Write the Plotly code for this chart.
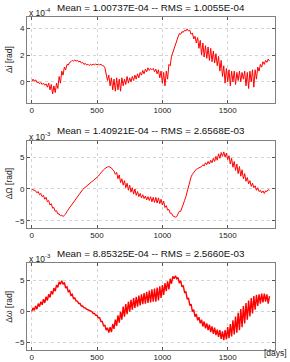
import plotly.graph_objects as go

# Sampling step of the read-off values (days)
STEP = 10

# Panel 1: delta i, in units of 1e-4 rad
di_e4 = [
    0.0, 0.2, 0.05, 0.15, -0.05, 0.0, -0.15, -0.05, -0.2, -0.1,
    -0.25, -0.15, -0.4, -0.1, -0.6, -0.2, -0.9, -0.3, -0.8, -0.1,
    -0.5, 0.4, -0.1, 0.8, 0.5, 1.1, 0.9, 1.3, 1.25, 1.45,
    1.5, 1.6, 1.55, 1.62, 1.55, 1.6, 1.48, 1.55, 1.4, 1.45,
    1.3, 1.38, 1.25, 1.32, 1.22, 1.3, 1.25, 1.32, 1.27, 1.33,
    1.28, 1.32, 1.27, 1.3, 1.22, 1.2, 1.05, 0.6, 0.1, 0.5,
    -0.3, 0.3, -0.6, 0.2, -0.7, 0.3, -0.6, 0.2, -0.7, 0.3,
    -0.3, 0.2, -0.2, 0.4, -0.1, 0.3, 0.0, 0.4, 0.1, 0.5,
    0.2, 0.6, 0.3, 0.7, 0.5, 0.85, 0.6, 0.95, 0.75, 1.05,
    0.85, 1.0, 0.9, 1.0, 0.75, 0.95, 0.6, 0.9, 0.3, 0.8,
    -0.1, 0.7, -0.3, 0.8, 0.2, 1.3, 1.2, 1.9, 2.2, 2.6,
    2.8, 3.2, 3.35, 3.6, 3.55, 3.75, 3.7, 3.85, 3.8, 3.95,
    3.8, 3.85, 3.55, 3.65, 3.2, 3.4, 2.9, 3.3, 2.5, 3.1,
    2.0, 2.9, 1.85, 2.7, 1.75, 2.6, 1.6, 2.5, 1.5, 2.3,
    1.4, 2.1, 1.2, 1.9, 0.8, 1.6, 0.4, 1.2, -0.1, 1.0,
    0.0, 0.9, -0.3, 0.8, 0.0, 0.8, -0.2, 0.7, 0.1, 0.8,
    0.0, 0.7, 0.2, 0.8, -0.3, 0.7, -0.5, 0.8, 0.0, 0.9,
    -0.4, 0.9, 0.2, 1.1, 0.8, 1.3, 1.1, 1.5, 1.3, 1.6,
    1.45, 1.7, 1.55,
]

# Panel 2: delta Omega, in units of 1e-3 rad
dO_e3 = [
    0.0, -0.1, -0.2, -0.3, -0.6, -0.4, -0.9, -0.7, -1.2, -1.0,
    -1.6, -1.3, -2.0, -1.8, -2.5, -2.3, -3.0, -2.9, -3.5, -3.4,
    -3.9, -3.9, -4.2, -4.1, -4.3, -4.1, -3.9, -3.5, -3.2, -2.9,
    -2.6, -2.3, -2.0, -1.7, -1.4, -1.1, -0.8, -0.6, -0.3, -0.1,
    0.1, 0.3, 0.5, 0.7, 0.85, 1.0, 1.15, 1.3, 1.45, 1.6,
    1.75, 2.0, 2.3, 2.6, 2.8, 3.0, 3.2, 3.35, 3.45, 3.5,
    3.4, 3.3, 3.0, 2.8, 2.3, 2.6, 1.6, 2.2, 1.0, 1.6,
    0.6, 1.3, 0.2, 0.9, -0.2, 0.6, -0.5, 0.2, -0.8, 0.0,
    -1.0, -0.4, -1.2, -0.7, -1.4, -0.9, -1.5, -1.1, -1.7, -1.2,
    -1.8, -1.2, -2.0, -1.3, -2.1, -1.3, -2.2, -1.4, -2.3, -1.6,
    -2.5, -1.9, -2.9, -2.6, -3.3, -3.2, -3.8, -3.8, -4.2, -4.3,
    -4.4, -4.3, -4.0, -3.5, -3.5, -2.8, -2.5, -1.8, -1.2, -0.3,
    0.6, 1.3, 1.9, 2.3, 2.6, 2.8, 3.1, 3.2, 3.3, 3.5,
    3.5, 3.8, 3.6, 4.1, 3.8, 4.3, 3.9, 4.5, 4.1, 4.8,
    4.3, 5.1, 4.5, 5.5, 4.8, 5.7, 5.1, 5.8, 5.0, 5.6,
    4.6, 5.2, 3.9, 4.8, 3.4, 4.3, 2.9, 3.9, 2.4, 3.5,
    2.0, 3.0, 1.6, 2.4, 1.2, 1.8, 0.8, 1.3, 0.4, 0.9,
    0.2, 0.5, -0.2, 0.2, -0.4, -0.2, -0.6, -0.3, -0.7, -0.3,
    -0.4, -0.1, -0.2,
]

# Panel 3: delta omega, in units of 1e-3 rad
dw_e3 = [
    0.0, 0.6, 0.2, 0.9, 0.4, 1.3, 0.8, 1.6, 1.1, 2.0,
    1.4, 2.4, 1.8, 2.8, 2.3, 3.3, 2.8, 3.8, 3.3, 4.3,
    3.9, 4.8, 4.4, 5.0, 4.4, 4.7, 3.8, 4.0, 3.2, 3.4,
    2.6, 2.8, 2.1, 2.2, 1.7, 1.7, 1.3, 1.3, 0.9, 0.9,
    0.6, 0.6, 0.4, 0.3, 0.2, 0.0, 0.0, -0.3, -0.3, -0.6,
    -0.6, -1.0, -1.0, -1.6, -1.6, -2.3, -2.2, -3.0, -2.6, -3.4,
    -2.5, -3.3, -2.0, -2.8, -1.3, -2.3, -0.6, -1.8, 0.0, -1.3,
    0.8, -0.8, 1.2, -0.4, 1.6, 0.0, 1.9, 0.3, 2.2, 0.6,
    2.4, 0.8, 2.6, 1.0, 2.8, 1.2, 3.0, 1.3, 3.2, 1.4,
    3.4, 1.5, 3.6, 1.6, 3.7, 1.6, 3.9, 1.8, 4.1, 2.2,
    4.3, 2.7, 4.6, 3.3, 4.9, 3.6, 5.3, 4.5, 5.7, 5.3,
    5.8, 5.3, 5.5, 4.6, 5.0, 4.0, 4.2, 3.1, 3.2, 2.0,
    2.2, 1.0, 1.2, 0.0, 0.3, -0.8, -0.4, -1.4, -0.9, -1.9,
    -1.3, -2.4, -1.6, -2.7, -1.9, -3.0, -2.1, -3.3, -2.4, -3.6,
    -2.6, -3.8, -2.9, -4.1, -3.0, -4.4, -3.2, -4.6, -3.0, -4.5,
    -2.5, -4.3, -2.0, -4.0, -1.4, -3.7, -0.8, -3.4, -0.2, -3.0,
    0.4, -2.5, 0.9, -1.9, 1.4, -1.3, 1.8, -0.8, 2.2, -0.3,
    2.5, 0.3, 2.7, 0.9, 2.8, 1.3, 2.9, 1.5, 2.9, 1.6,
    2.8, 1.3, 2.5,
]

days = [STEP * k for k in range(len(di_e4))]

titles = [
    "Mean = 1.00737E-04 -- RMS = 1.0055E-04",
    "Mean = 1.40921E-04 -- RMS = 2.6568E-03",
    "Mean = 8.85325E-04 -- RMS = 2.5660E-03",
]
ylabels = ["\u0394i [rad]", "\u0394\u03a9 [rad]", "\u0394\u03c9 [rad]"]
exponents = ["-4", "-3", "-3"]
xticks = [0, 500, 1000, 1500]
yticks = [[0, 2, 4], [-5, 0, 5], [-5, 0, 5]]
yranges = [[-1.58, 4.84], [-6.1, 7.55], [-6.2, 7.8]]
series = [di_e4, dO_e3, dw_e3]
linewidths = [1.0, 1.0, 1.4]

W, H = 290, 362
# plot boxes in pixels: (top, bottom)
boxes = [(17, 103), (140.7, 228), (263.3, 350)]
xl, xr = 27, 275

FONT = "Liberation Sans, Arial, Helvetica, sans-serif"

fig = go.Figure()
for i in range(3):
    n = "" if i == 0 else str(i + 1)
    fig.add_trace(go.Scatter(
        x=days, y=series[i], mode="lines",
        line=dict(color="rgb(255,0,0)", width=linewidths[i]),
        xaxis="x" + n, yaxis="y" + n, showlegend=False,
    ))
    top, bot = boxes[i]
    common = dict(
        showline=True, linecolor="#7f7f7f", linewidth=1, mirror="ticks",
        ticks="inside", ticklen=3, tickcolor="#555555",
        showgrid=True, gridcolor="#d4d4d4", griddash="dot", gridwidth=0.8,
        zeroline=False, tickfont=dict(family=FONT, size=8, color="#222222"),
        automargin=False,
    )
    fig.layout["xaxis" + n] = dict(
        domain=[xl / W, xr / W], range=[-36, 1862], tickvals=xticks,
        anchor="y" + n, ticklabelstandoff=-1, **common)
    fig.layout["yaxis" + n] = dict(
        domain=[1 - bot / H, 1 - top / H], range=yranges[i],
        tickvals=yticks[i], anchor="x" + n, **common)
    # title
    fig.add_annotation(x=151 / W, y=1 - (top - 10) / H, xref="paper", yref="paper",
                       text=titles[i], showarrow=False,
                       font=dict(family=FONT, size=9.8, color="#111111"),
                       xanchor="center", yanchor="middle")
    # exponent label
    fig.add_annotation(x=xl / W, y=1 - (top - 4.5) / H, xref="paper", yref="paper",
                       text="x 10<sup>" + exponents[i] + "</sup>", showarrow=False,
                       font=dict(family=FONT, size=8.5, color="#222222"),
                       xanchor="left", yanchor="middle")
    # y label
    fig.add_annotation(x=9 / W, y=1 - ((top + bot) / 2) / H, xref="paper", yref="paper",
                       text=ylabels[i], showarrow=False, textangle=-90,
                       font=dict(family=FONT, size=8.5, color="#222222"),
                       xanchor="center", yanchor="middle")

fig.add_annotation(x=275 / W, y=1 - 353 / H, xref="paper", yref="paper",
                   text="[days]", showarrow=False,
                   font=dict(family=FONT, size=8.5, color="#222222"),
                   xanchor="center", yanchor="middle")

fig.update_layout(
    width=W, height=H, margin=dict(l=0, r=0, t=0, b=0),
    paper_bgcolor="white", plot_bgcolor="white",
)
fig.write_html("out.html", config={"displayModeBar": False},
               post_script="document.body.style.margin='0';document.body.style.overflow='hidden';")
